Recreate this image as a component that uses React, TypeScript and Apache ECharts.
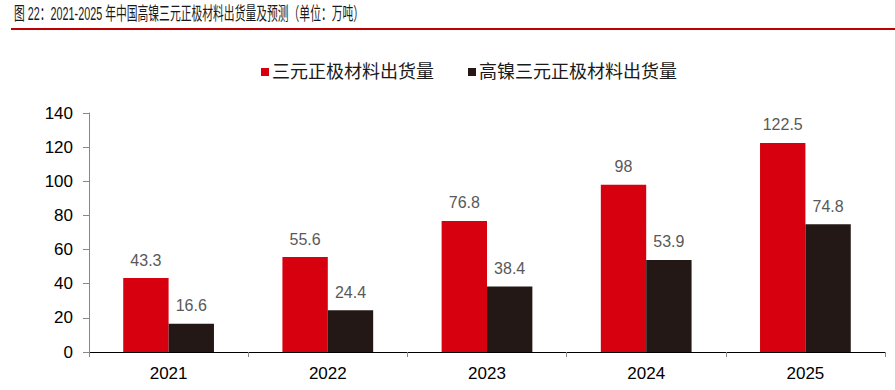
import React, { useEffect, useRef } from "react";
import * as echarts from "echarts";

const years = ["2021", "2022", "2023", "2024", "2025"];
const ncmShipment = [43.3, 55.6, 76.8, 98, 122.5];
const highNiShipment = [16.6, 24.4, 38.4, 53.9, 74.8];
const seriesNames = ["三元正极材料出货量", "高镍三元正极材料出货量"];
const titleText = "图 22：2021-2025 年中国高镍三元正极材料出货量及预测（单位：万吨）";

const FONT = "Arial, 'Liberation Sans', 'Noto Sans CJK SC', sans-serif";

export default function App() {
  const ref = useRef<HTMLDivElement>(null);
  useEffect(() => {
    if (!ref.current) return;
    const chart = echarts.init(ref.current, undefined, { renderer: "svg" });
    chart.setOption({
      animation: false,
      textStyle: { fontFamily: FONT },
      graphic: [
        {
          type: "text",
          x: 14,
          y: 5,
          scaleX: 0.6,
          style: { text: titleText, fontSize: 18, fill: "#1a1a1a", fontFamily: FONT },
        },
        {
          type: "line",
          shape: { x1: 11, y1: 29, x2: 895, y2: 29 },
          style: { stroke: "#C00000", lineWidth: 2 },
        },
      ],
      legend: {
        data: seriesNames,
        left: 256,
        top: 58,
        icon: "rect",
        itemWidth: 8,
        itemHeight: 8,
        itemGap: 34,
        textStyle: { fontSize: 18, color: "#1a1a1a", padding: [0, 0, 0, -2] },
      },
      grid: { left: 89, right: 10, top: 113, bottom: 38 },
      xAxis: {
        type: "category",
        data: years,
        axisLine: { lineStyle: { color: "#000", width: 1 } },
        axisTick: { show: true, length: 5, lineStyle: { color: "#888" } },
        axisLabel: { fontSize: 17, color: "#000", margin: 13 },
      },
      yAxis: {
        type: "value",
        min: 0,
        max: 140,
        interval: 20,
        axisLine: { show: true, lineStyle: { color: "#888" } },
        axisTick: { show: true, length: 6, lineStyle: { color: "#888" } },
        axisLabel: { fontSize: 17, color: "#000", margin: 16 },
        splitLine: { show: false },
      },
      series: [
        {
          name: seriesNames[0],
          type: "bar",
          data: ncmShipment,
          barGap: "0%",
          barCategoryGap: "43%",
          itemStyle: { color: "#D7000F" },
          label: { show: true, position: "top", distance: 10, fontSize: 16, color: "#595959" },
        },
        {
          name: seriesNames[1],
          type: "bar",
          data: highNiShipment,
          itemStyle: { color: "#231815" },
          label: { show: true, position: "top", distance: 10, fontSize: 16, color: "#595959" },
        },
      ],
    });
    return () => chart.dispose();
  }, []);
  return <div ref={ref} style={{ width: 895, height: 390, position: "absolute", left: 0, top: 0 }} />;
}
